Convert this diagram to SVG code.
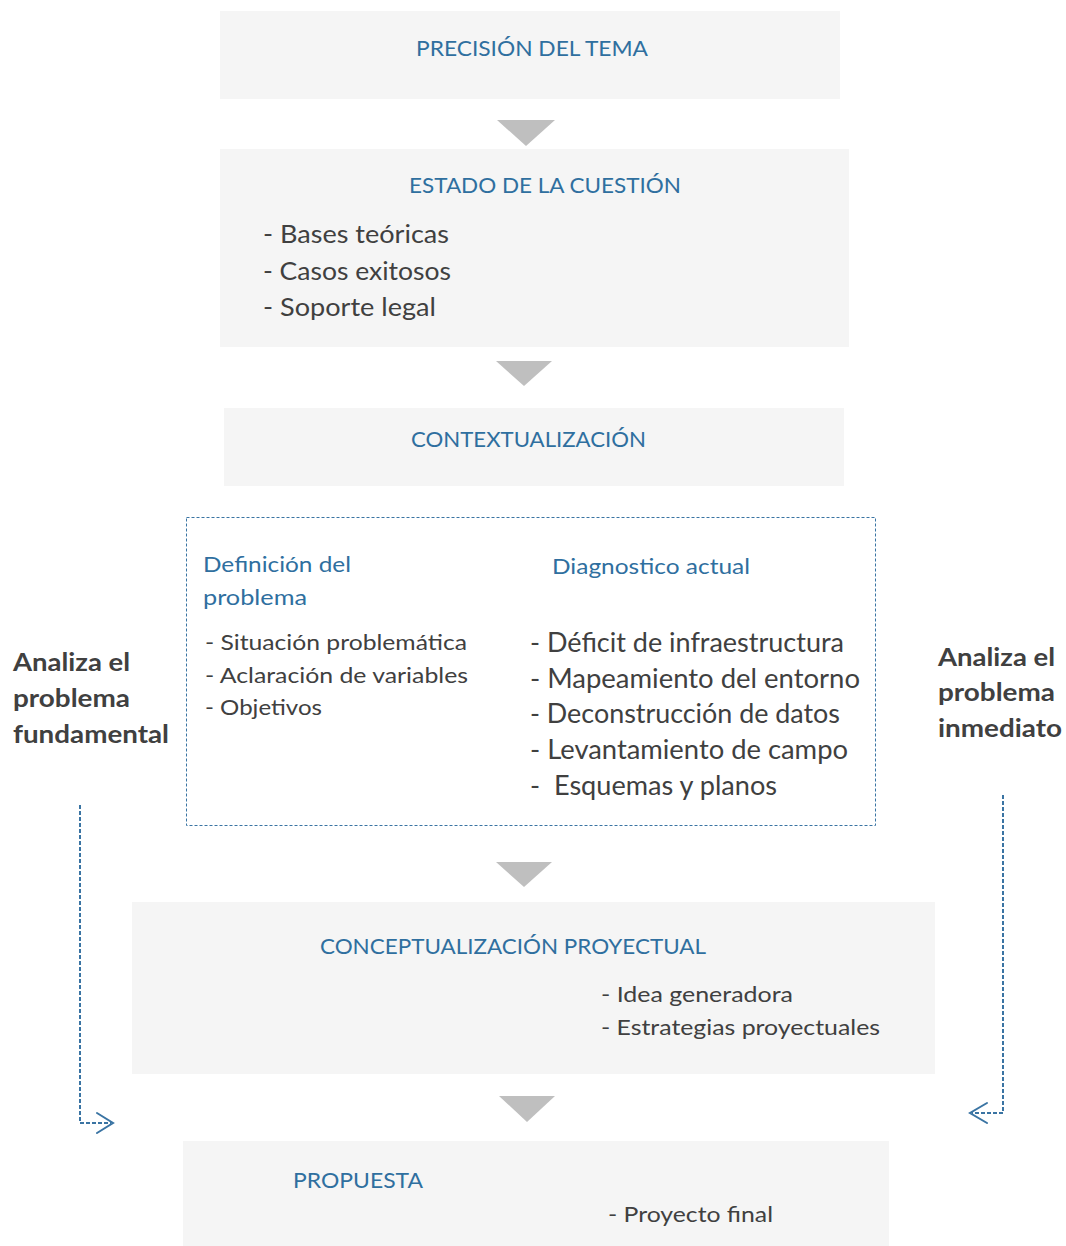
<svg xmlns="http://www.w3.org/2000/svg" width="1066" height="1246" viewBox="0 0 1066 1246">
  <defs>
    <style>
      .box { fill: #f5f5f5; }
      .tri { fill: #bfbfbf; }
      .title { font-family: Lato, "Open Sans", sans-serif; font-size: 22px; fill: #2f6f9f; }
      .item { font-family: Lato, "Open Sans", sans-serif; fill: #404040; }
      .side { font-family: Lato, "Open Sans", sans-serif; font-weight: bold; font-size: 25px; fill: #404040; }
      .dash { fill: none; stroke: #3a74a3; stroke-width: 2; stroke-dasharray: 4 2; }
      .head { fill: none; stroke: #3a74a3; stroke-width: 2; stroke-linecap: round; }
      .frame { fill: #ffffff; stroke: #3a74a3; stroke-width: 1; stroke-dasharray: 3 2; }
    </style>
  </defs>

  <rect width="1066" height="1246" fill="#ffffff"/>

  <!-- Step 1 -->
  <g id="precision">
    <rect class="box" x="220" y="11" width="620" height="88"/>
    <text class="title" x="416" y="56" textLength="232" lengthAdjust="spacingAndGlyphs">PRECISIÓN DEL TEMA</text>
  </g>

  <!-- Step 2 -->
  <g id="estado">
    <rect class="box" x="220" y="149" width="629" height="198"/>
    <text class="title" x="409" y="193" textLength="272" lengthAdjust="spacingAndGlyphs">ESTADO DE LA CUESTIÓN</text>
    <text class="item" font-size="25" x="263" y="243" textLength="186" lengthAdjust="spacingAndGlyphs">- Bases teóricas</text>
    <text class="item" font-size="25" x="263" y="280" textLength="188" lengthAdjust="spacingAndGlyphs">- Casos exitosos</text>
    <text class="item" font-size="25" x="263" y="316" textLength="173" lengthAdjust="spacingAndGlyphs">- Soporte legal</text>
  </g>

  <!-- Step 3 -->
  <g id="contextualizacion">
    <rect class="box" x="224" y="408" width="620" height="78"/>
    <text class="title" x="411" y="447" textLength="235" lengthAdjust="spacingAndGlyphs">CONTEXTUALIZACIÓN</text>
  </g>

  <!-- Problem definition and diagnosis -->
  <g id="analisis">
    <rect class="frame" x="186.5" y="517.5" width="689" height="308"/>
    <text class="title" x="203" y="572" textLength="148" lengthAdjust="spacingAndGlyphs">Definición del</text>
    <text class="title" x="203" y="605" textLength="104" lengthAdjust="spacingAndGlyphs">problema</text>
    <text class="title" x="552" y="574" textLength="198" lengthAdjust="spacingAndGlyphs">Diagnostico actual</text>
    <text class="item" font-size="22" x="205" y="650" textLength="262" lengthAdjust="spacingAndGlyphs">- Situación problemática</text>
    <text class="item" font-size="22" x="205" y="683" textLength="263" lengthAdjust="spacingAndGlyphs">- Aclaración de variables</text>
    <text class="item" font-size="22" x="205" y="715" textLength="117" lengthAdjust="spacingAndGlyphs">- Objetivos</text>
    <text class="item" font-size="26" x="530" y="652" textLength="314" lengthAdjust="spacingAndGlyphs">- Déficit de infraestructura</text>
    <text class="item" font-size="26" x="530" y="688" textLength="330" lengthAdjust="spacingAndGlyphs">- Mapeamiento del entorno</text>
    <text class="item" font-size="26" x="530" y="723" textLength="310" lengthAdjust="spacingAndGlyphs">- Deconstrucción de datos</text>
    <text class="item" font-size="26" x="530" y="759" textLength="318" lengthAdjust="spacingAndGlyphs">- Levantamiento de campo</text>
    <text class="item" font-size="26" x="530" y="795" textLength="247" lengthAdjust="spacingAndGlyphs" xml:space="preserve">-  Esquemas y planos</text>
  </g>

  <!-- Side labels -->
  <g id="fundamental">
    <text class="side" x="13" y="671" textLength="117" lengthAdjust="spacingAndGlyphs">Analiza el</text>
    <text class="side" x="13" y="707" textLength="117" lengthAdjust="spacingAndGlyphs">problema</text>
    <text class="side" x="13" y="743" textLength="156" lengthAdjust="spacingAndGlyphs">fundamental</text>
  </g>
  <g id="inmediato">
    <text class="side" x="938" y="666" textLength="117" lengthAdjust="spacingAndGlyphs">Analiza el</text>
    <text class="side" x="938" y="701" textLength="117" lengthAdjust="spacingAndGlyphs">problema</text>
    <text class="side" x="938" y="737" textLength="124" lengthAdjust="spacingAndGlyphs">inmediato</text>
  </g>

  <!-- Step 4 -->
  <g id="conceptualizacion">
    <rect class="box" x="132" y="902" width="803" height="172"/>
    <text class="title" x="320" y="954" textLength="386" lengthAdjust="spacingAndGlyphs">CONCEPTUALIZACIÓN PROYECTUAL</text>
    <text class="item" font-size="22" x="601" y="1002" textLength="192" lengthAdjust="spacingAndGlyphs">- Idea generadora</text>
    <text class="item" font-size="22" x="601" y="1035" textLength="279" lengthAdjust="spacingAndGlyphs">- Estrategias proyectuales</text>
  </g>

  <!-- Step 5 -->
  <g id="propuesta">
    <rect class="box" x="183" y="1141" width="706" height="105"/>
    <text class="title" x="293" y="1188" textLength="130" lengthAdjust="spacingAndGlyphs">PROPUESTA</text>
    <text class="item" font-size="22" x="608" y="1222" textLength="165" lengthAdjust="spacingAndGlyphs">- Proyecto final</text>
  </g>

  <!-- Connectors -->
  <g id="connectors">
    <polygon class="tri" points="497,120 555,120 526,146"/>
    <polygon class="tri" points="496,361 552,361 524,386"/>
    <polygon class="tri" points="496,862 552,862 524,887"/>
    <polygon class="tri" points="499,1096 555,1096 527,1122"/>

    <polyline class="dash" points="80,805 80,1123 111,1123"/>
    <polyline class="head" points="97,1113 113,1123 97,1133"/>

    <polyline class="dash" points="1003,795 1003,1113 972,1113"/>
    <polyline class="head" points="987,1103 970,1113 987,1123"/>
  </g>
</svg>
